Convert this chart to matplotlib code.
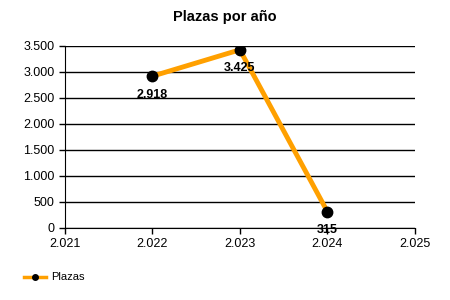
import matplotlib
matplotlib.use('Agg')
import matplotlib.pyplot as plt
from matplotlib.ticker import FuncFormatter, MultipleLocator

years = [2022, 2023, 2024]
plazas = [2918, 3425, 315]
series_name = 'Plazas'
title = 'Plazas por año'

plt.rcParams['font.family'] = ['Liberation Sans', 'DejaVu Sans']


def thousands_dot(v, pos=None):
    return f"{int(round(v)):,}".replace(',', '.')


fig = plt.figure(figsize=(4.5, 3.0), dpi=100)
ax = fig.add_axes([0.144, 0.24, 0.778, 0.607])

ax.plot(years, plazas, '-', color='#FFA000', linewidth=3.5, zorder=3)
ax.plot(years, plazas, 'o', color='black', markersize=7.5, zorder=4)

for x, y in zip(years, plazas):
    ax.annotate(thousands_dot(y), (x, y), xytext=(0, -9), textcoords='offset points',
                ha='center', va='top', fontsize=9, fontweight='bold', zorder=5)

ax.set_xlim(2021, 2025)
ax.set_ylim(0, 3500)
ax.xaxis.set_major_locator(MultipleLocator(1))
ax.yaxis.set_major_locator(MultipleLocator(500))
ax.xaxis.set_major_formatter(FuncFormatter(thousands_dot))
ax.yaxis.set_major_formatter(FuncFormatter(thousands_dot))
ax.tick_params(labelsize=9, length=4, width=1, colors='black')
ax.grid(True, axis='y', color='black', linewidth=1)
ax.set_axisbelow(True)
for s in ['top', 'right']:
    ax.spines[s].set_visible(False)

fig.text(0.5, 0.943, title, ha='center', va='center', fontsize=10.5, fontweight='bold')

fig.legend([plt.Line2D([], [], color='#FFA000', linewidth=2.5, marker='o',
                       markerfacecolor='black', markeredgecolor='black', markersize=4)],
           [series_name], loc='lower left', bbox_to_anchor=(0.03, 0.025),
           frameon=False, fontsize=8, handlelength=2.0, handletextpad=0.5)

plt.savefig('out.png', dpi=100)
